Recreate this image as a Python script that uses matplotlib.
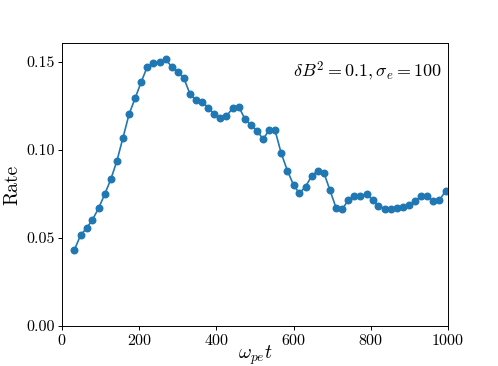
import matplotlib
matplotlib.use('Agg')
import matplotlib.pyplot as plt

plt.rcParams['font.family'] = 'cmr10'
plt.rcParams['mathtext.fontset'] = 'cm'
plt.rcParams['axes.formatter.use_mathtext'] = True

# sample times (omega_pe t) and rates
t = [32, 48, 64, 79, 95, 111, 127, 142, 158, 174,
     190, 205, 221, 237, 253, 269, 284, 300, 316, 332,
     347, 363, 379, 395, 410, 426, 442, 458, 474, 489,
     505, 521, 537, 552, 568, 584, 600, 615, 631, 647,
     663, 679, 694, 710, 726, 742, 757, 773, 789, 805,
     820, 836, 852, 868, 884, 899, 915, 931, 947, 962,
     978, 994]
rate = [0.0432, 0.0515, 0.0557, 0.0604, 0.0670, 0.0750, 0.0837, 0.0936, 0.1070, 0.1205,
        0.1297, 0.1386, 0.1473, 0.1492, 0.1502, 0.1515, 0.1473, 0.1445, 0.1407, 0.1316,
        0.1284, 0.1275, 0.1240, 0.1203, 0.1180, 0.1193, 0.1237, 0.1246, 0.1176, 0.1142,
        0.1110, 0.1062, 0.1114, 0.1112, 0.0981, 0.0883, 0.0801, 0.0754, 0.0792, 0.0852,
        0.0883, 0.0868, 0.0773, 0.0672, 0.0663, 0.0716, 0.0740, 0.0739, 0.0748, 0.0716,
        0.0682, 0.0667, 0.0667, 0.0672, 0.0674, 0.0689, 0.0710, 0.0739, 0.0739, 0.0708,
        0.0714, 0.0769]
yticks = [0.00, 0.05, 0.10, 0.15]
xticks = [0, 200, 400, 600, 800, 1000]

fig = plt.figure(figsize=(4.98, 3.66), dpi=100)
ax = fig.add_axes([0.1245, 0.1093, 0.775, 0.7732])

ax.plot(t, rate, '-o', color='#1f77b4', markersize=4.7, linewidth=1.2)

ax.set_xlim(0, 1000)
ax.set_ylim(0, 0.1608)
ax.set_xticks(xticks)
ax.set_yticks(yticks)
ax.set_yticklabels(['%.2f' % v for v in yticks])
ax.tick_params(labelsize=11.5, width=0.7, length=3, pad=2)
for s in ax.spines.values():
    s.set_linewidth(0.7)

ax.set_xlabel(r'$\omega_{pe}t$', fontsize=14, labelpad=-3)
ax.set_ylabel('Rate', fontsize=14, labelpad=4)
ax.text(0.985, 0.9, r'$\delta B^2 = 0.1, \sigma_e = 100$', transform=ax.transAxes,
        ha='right', va='center', fontsize=13)

fig.savefig('out.png', dpi=100)
